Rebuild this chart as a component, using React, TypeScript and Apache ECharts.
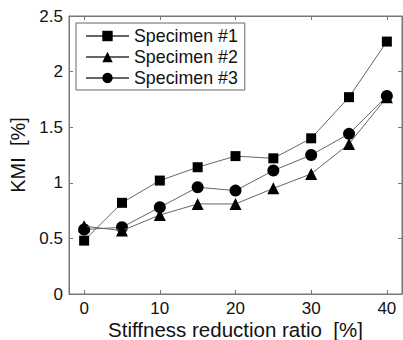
import React, { useEffect, useRef } from "react";
import * as echarts from "echarts";

const xValues = [0, 5, 10, 15, 20, 25, 30, 35, 40];
const xTicks = [0, 10, 20, 30, 40];
const specimen1 = [0.48, 0.82, 1.02, 1.14, 1.24, 1.22, 1.4, 1.77, 2.27];
const specimen2 = [0.61, 0.57, 0.71, 0.81, 0.81, 0.95, 1.08, 1.35, 1.77];
const specimen3 = [0.58, 0.6, 0.78, 0.96, 0.93, 1.11, 1.25, 1.44, 1.78];
const seriesNames = ["Specimen #1", "Specimen #2", "Specimen #3"];
const seriesSymbols = ["rect", "triangle", "circle"];
const seriesSizes = [10, 12, 12];

const FONT = "Liberation Sans, Arial, Helvetica, sans-serif";

export default function App() {
  const ref = useRef<HTMLDivElement>(null);
  useEffect(() => {
    if (!ref.current) return;
    const chart = echarts.init(ref.current, undefined, { renderer: "svg" });
    const data = [specimen1, specimen2, specimen3];
    const tickStyle = { show: true, inside: true, length: 4, lineStyle: { color: "#777", width: 1 } };
    const lineStyleAxis = { show: true, onZero: false, lineStyle: { color: "#777", width: 1 } };
    chart.setOption({
      animation: false,
      textStyle: { fontFamily: FONT },
      grid: {
        left: 69,
        right: 1,
        top: 16,
        bottom: 46,
        show: true,
        borderColor: "#777",
        borderWidth: 1,
        containLabel: false,
        outerBoundsMode: "none",
      },
      legend: {
        orient: "vertical",
        left: 76,
        top: 23,
        padding: [4, 7, 3, 9],
        itemGap: 3,
        itemWidth: 43,
        itemHeight: 13,
        borderColor: "#666",
        borderWidth: 1,
        backgroundColor: "#fff",
        textStyle: { fontSize: 17.8, color: "#111", fontFamily: FONT },
        data: seriesNames,
      },
      xAxis: [
        {
          type: "value",
          position: "bottom",
          min: -2,
          max: 42,
          name: "Stiffness reduction ratio  [%]",
          nameLocation: "middle",
          nameGap: 25,
          nameMoveOverlap: false,
          nameTextStyle: { fontSize: 20.5, color: "#111", fontFamily: FONT },
          axisLine: lineStyleAxis,
          axisTick: { ...tickStyle, customValues: xTicks },
          axisLabel: { customValues: xTicks, fontSize: 17, color: "#111", margin: 6, fontFamily: FONT },
          splitLine: { show: false },
        },
        {
          type: "value",
          position: "top",
          min: -2,
          max: 42,
          axisLine: lineStyleAxis,
          axisTick: { ...tickStyle, customValues: xTicks },
          axisLabel: { show: false },
          splitLine: { show: false },
        },
      ],
      yAxis: [
        {
          type: "value",
          position: "left",
          min: 0,
          max: 2.5,
          interval: 0.5,
          name: "KMI  [%]",
          nameLocation: "middle",
          nameGap: 41,
          nameMoveOverlap: false,
          nameTextStyle: { fontSize: 20, color: "#111", fontFamily: FONT },
          axisLine: lineStyleAxis,
          axisTick: tickStyle,
          axisLabel: { fontSize: 17, color: "#111", margin: 6, fontFamily: FONT },
          splitLine: { show: false },
        },
        {
          type: "value",
          position: "right",
          min: 0,
          max: 2.5,
          interval: 0.5,
          axisLine: lineStyleAxis,
          axisTick: tickStyle,
          axisLabel: { show: false },
          splitLine: { show: false },
        },
      ],
      series: seriesNames.map((name, i) => ({
        name,
        type: "line",
        xAxisIndex: 0,
        yAxisIndex: 0,
        data: xValues.map((x, j) => [x, data[i][j]]),
        symbol: seriesSymbols[i],
        symbolSize: seriesSizes[i],
        showAllSymbol: true,
        lineStyle: { color: "#666", width: 1 },
        itemStyle: { color: "#000" },
        z: 3 - i,
      })),
    });
    return () => chart.dispose();
  }, []);
  return (
    <div
      ref={ref}
      style={{ position: "fixed", left: 0, top: 0, width: 403, height: 340, background: "#fff" }}
    />
  );
}
